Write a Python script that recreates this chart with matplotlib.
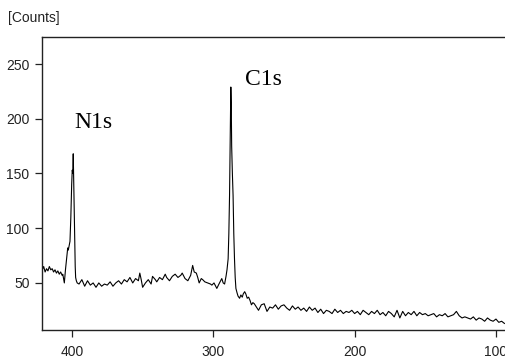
"""XPS survey spectrum: N1s and C1s region."""

import matplotlib

matplotlib.use("Agg")
import matplotlib.pyplot as plt
from matplotlib import font_manager

# binding energy (eV) and counts
be_pre = [421, 420, 419, 418, 417, 416, 415, 414, 413, 412, 411, 410, 409, 408, 407]
cnt_pre = [62, 65, 60, 63, 61, 65, 62, 63, 60, 62, 59, 61, 58, 60, 57]

be_n1s = [406.5, 405.4, 404.6, 403.8, 403.0, 402.6, 401.8, 401.4, 400.8, 400.2,
          399.8, 399.4, 399.1, 398.8, 398.4, 398.0, 397.7, 397.4, 396.9, 396.3]
cnt_n1s = [58, 50, 62, 72, 82, 80, 85, 88, 110, 140,
           153, 150, 168, 145, 120, 85, 65, 55, 52, 50]

be_mid = [395, 393, 391, 389, 387, 385, 383, 381, 379, 377, 375, 373, 371, 369,
          367, 365, 363, 361, 359, 357, 355, 353, 352, 351, 350, 348, 346, 344,
          343, 341, 340, 338, 336, 334, 333, 331, 329, 327, 325, 323, 322, 320,
          318, 316, 314.6, 313.5, 312, 311, 310, 308.5, 307.5, 306, 304, 302,
          301, 299.5, 297.5, 296, 294, 293, 292]
cnt_mid = [49, 53, 47, 52, 48, 50, 46, 50, 47, 49, 48, 51, 47, 50,
           52, 49, 53, 51, 55, 50, 54, 52, 59, 53, 46, 50, 53, 49,
           56, 53, 51, 55, 53, 58, 55, 52, 56, 58, 55, 57, 59, 54,
           52, 57, 66, 60, 59, 55, 50, 54, 53, 51, 50, 49,
           48, 50, 45, 49, 54, 50, 49]

be_c1s = [291, 290.3, 289.5, 289, 288.5, 288, 287.6, 287.3, 287, 286.5, 286,
          285.5, 285, 284.5, 284, 283.2, 282.5, 281.4, 280.5, 279.5, 278.8,
          277.8, 277, 276, 275, 274, 273, 272, 271]
cnt_c1s = [56, 62, 72, 95, 130, 190, 229, 215, 175, 150, 130,
           95, 72, 55, 45, 41, 38, 36, 39, 37, 40,
           42, 40, 36, 37, 34, 30, 32, 31]

be_tail = [270, 268, 266, 264, 262, 260, 258, 256, 254, 252, 250, 248, 246, 244,
           242, 240, 238, 236, 234, 232, 230, 228, 226, 224, 222, 220, 218, 216,
           214, 212, 210, 208, 206, 204, 202, 200, 198, 196, 194, 192, 190, 188,
           186, 184, 182, 180, 178, 176, 174, 172, 170, 168, 166, 164, 162, 160,
           158, 156, 154, 152, 150, 148, 146, 144, 142, 140, 138, 136, 134, 132,
           130, 128, 126, 124, 122, 120, 118, 116, 114, 112, 110, 108, 106, 104,
           102, 100, 98, 96, 94]
cnt_tail = [29, 25, 30, 31, 24, 28, 27, 30, 26, 29, 30, 27, 25, 29,
            26, 28, 25, 27, 24, 28, 25, 27, 23, 26, 22, 25, 24, 22,
            26, 23, 25, 22, 24, 23, 25, 22, 24, 21, 25, 23, 21, 24,
            22, 25, 21, 23, 20, 24, 22, 19, 25, 18, 24, 20, 23, 21,
            24, 20, 23, 21, 22, 20, 21, 22, 19, 21, 20, 22, 19, 20,
            21, 24, 20, 18, 19, 18, 17, 19, 16, 18, 17, 15, 18, 16,
            15, 17, 14, 15, 13]

y_ticks = [50, 100, 150, 200, 250]
x_ticks = [400, 300, 200, 100]
peak_labels = [("N1s", 398.6, 192), ("C1s", 277.7, 231)]

names = {f.name for f in font_manager.fontManager.ttflist}
sans = "Liberation Sans Narrow" if "Liberation Sans Narrow" in names else "Liberation Sans"

be = be_pre + be_n1s + be_mid + be_c1s + be_tail
cnt = cnt_pre + cnt_n1s + cnt_mid + cnt_c1s + cnt_tail

fig = plt.figure(figsize=(5.05, 3.58), dpi=100)
ax = fig.add_axes([42 / 505, 28 / 358, 463 / 505, 293 / 358])
ax.plot(be, cnt, color="black", lw=0.8)
ax.set_xlim(421.2, 93.6)
ax.set_ylim(7, 274.7)
ax.set_xticks(x_ticks)
ax.set_yticks(y_ticks)
ax.spines["right"].set_visible(False)
for s in ("left", "top", "bottom"):
    ax.spines[s].set_linewidth(1.0)
    ax.spines[s].set_color("#222222")
ax.tick_params(axis="y", direction="out", length=5, width=0.9, pad=4, colors="#222222",
               labelsize=10)
ax.tick_params(axis="x", direction="out", length=5, width=0.9, pad=6, colors="#222222",
               labelsize=10)
for lab in ax.get_xticklabels() + ax.get_yticklabels():
    lab.set_fontfamily(sans)

for text, x, y in peak_labels:
    ax.text(x, y, text, ha="left", va="baseline", fontsize=17,
            family="Liberation Serif", color="black")

fig.text(8 / 505, 1 - 18 / 358, "[Counts]", ha="left", va="center", fontsize=10,
         family=sans, color="#222222")

fig.savefig("out.png", dpi=100)
